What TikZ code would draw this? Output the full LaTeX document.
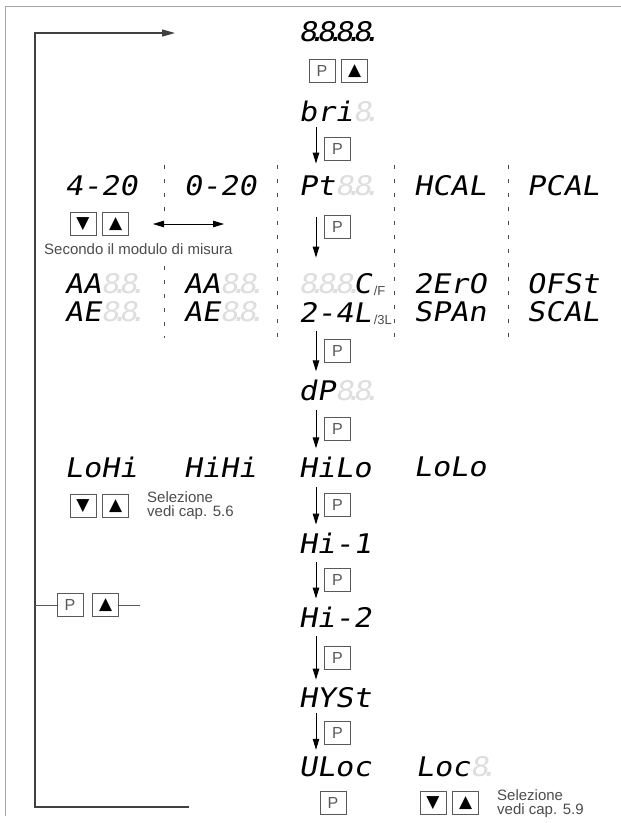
\documentclass[tikz,border=0pt]{standalone}
\usepackage{fontspec}
\setmainfont{Liberation Sans}
\newfontfamily\segfont{DejaVu Sans Mono}[FakeStretch=1.12, FakeSlant=0.18]
\newfontfamily\symfont{DejaVu Sans}
\usepackage{xcolor}
\usetikzlibrary{arrows.meta, positioning}
\definecolor{segoff}{gray}{0.87}
\definecolor{keyline}{gray}{0.35}
\definecolor{notegray}{gray}{0.3}

\newcommand{\segdisp}{\segfont\fontsize{27}{27}\selectfont}
\newcommand{\segdot}{\makebox[0pt]{.}}
\newcommand{\off}[1]{\textcolor{segoff}{#1}}
\newcommand{\keyup}{▲}
\newcommand{\keydown}{▼}

\begin{document}
\begin{tikzpicture}[x=1pt, y=-1pt,
    lcd/.style={inner sep=0pt, font=\segdisp},
    key/.style={draw=keyline, line width=0.7pt, minimum width=26pt, minimum height=23pt, inner sep=0pt, text=black!65, font=\fontsize{16}{16}\selectfont},
    keysym/.style={key, text=black, font=\symfont\fontsize{17}{17}\selectfont},
    flow/.style={-{Triangle[length=11pt, width=6.5pt]}, line width=0.9pt, shorten <=9pt, shorten >=8pt},
    twoway/.style={{Triangle[length=11pt, width=6.5pt]}-{Triangle[length=11pt, width=6.5pt]}, line width=0.9pt},
    note/.style={inner sep=0pt, text=notegray, align=left, font=\fontsize{15}{14}\selectfont},
    unit/.style={inner sep=0pt, text=notegray, font=\fontsize{13}{13}\selectfont},
    sep/.style={draw=black!70, line width=0.6pt, dash pattern=on 4pt off 10pt},
    backline/.style={draw=black!75, line width=1.2pt},
    tick/.style={draw=keyline, line width=0.7pt},
    frame/.style={draw=black!35, line width=1pt}
]
    \useasboundingbox (0,0) rectangle (621,823);
    \draw[frame] (5,816) -- (5,6) -- (621,6);

    % Main column
    \node[lcd] (test) at (335,32) {8\segdot8\segdot8\segdot8\segdot};
    \node[key] (testP) at (322,71) {P};
    \node[keysym, right=6pt of testP] (testUp) {\keyup};
    \node[lcd] (bri) at (335,111) {bri\off{8\segdot}};

    % Input type row
    \node[lcd] (in420) at (101,186) {4-20};
    \node[lcd] (in020) at (220,186) {0-20};
    \node[lcd] (inPt) at (335,186) {Pt\off{8\segdot8\segdot}};
    \node[lcd] (inHcal) at (450,186) {HCAL};
    \node[lcd] (inPcal) at (563,186) {PCAL};

    \node[keysym] (inDown) at (83,224) {\keydown};
    \node[keysym, right=6pt of inDown] (inUp) {\keyup};
    \coordinate (swL) at (153,224);
    \coordinate (swR) at (224,224);
    \draw[twoway] (swL) -- (swR);
    \node[note, anchor=west] (module) at (44,249) {Secondo il modulo di misura};

    % Parameter rows
    \node[lcd] (aa1) at (101,284) {AA\off{8\segdot8\segdot}};
    \node[lcd] (aa2) at (220,284) {AA\off{8\segdot8\segdot}};
    \node[lcd] (tempC) at (335,284) {\off{8\segdot8\segdot8\segdot}C};
    \node[lcd] (zero) at (450,284) {2ErO};
    \node[lcd] (ofst) at (563,284) {OFSt};
    \node[lcd] (ae1) at (101,312) {AE\off{8\segdot8\segdot}};
    \node[lcd] (ae2) at (220,312) {AE\off{8\segdot8\segdot}};
    \node[lcd] (wire) at (335,312) {2-4L};
    \node[lcd] (span) at (450,312) {SPAn};
    \node[lcd] (scal) at (563,312) {SCAL};
    \node[unit, anchor=base west, xshift=2pt, yshift=-2pt] (unitF) at (tempC.base east) {/F};
    \node[unit, anchor=base west, xshift=2pt, yshift=-2pt] (unit3L) at (wire.base east) {/3L};

    % Separators
    \draw[sep] (164,165) -- (164,212);
    \draw[sep] (164,266) -- (164,338);
    \foreach \x in {277,394,508}
        \draw[sep] (\x,165) -- (\x,338);

    \node[lcd] (dp) at (335,390) {dP\off{8\segdot8\segdot}};

    % Alarm mode row
    \node[lcd] (lohi) at (101,467) {LoHi};
    \node[lcd] (hihi) at (220,467) {HiHi};
    \node[lcd] (hilo) at (335,467) {HiLo};
    \node[lcd] (lolo) at (450,467) {LoLo};
    \node[keysym] (modeDown) at (83,506) {\keydown};
    \node[keysym, right=6pt of modeDown] (modeUp) {\keyup};
    \node[note, anchor=west] (modeNote) at (147,506) {Selezione\\vedi cap. 5.6};

    \node[lcd] (hi1) at (335,543) {Hi-1};
    \node[lcd] (hi2) at (335,617) {Hi-2};
    \node[lcd] (hyst) at (335,698) {HYSt};
    \node[lcd] (uloc) at (335,767) {ULoc};
    \node[lcd] (loc) at (452,767) {Loc\off{8\segdot}};
    \node[key] (endP) at (333,803) {P};
    \node[keysym] (locDown) at (433,803) {\keydown};
    \node[keysym, right=6pt of locDown] (locUp) {\keyup};
    \node[note, anchor=west] (locNote) at (497,804) {Selezione\\vedi cap. 5.9};

    % Connections - P steps
    \draw[flow, shorten <=5pt, shorten >=12pt] ([xshift=-19pt]bri.south) -- node[key, right=8pt] {P} ([xshift=-19pt]inPt.north);
    \draw[flow, shorten <=21pt, shorten >=16pt] ([xshift=-19pt]inPt.south) -- node[key, right=8pt, pos=0.4] {P} ([xshift=-19pt]tempC.north);
    \draw[flow] ([xshift=-19pt]wire.south) -- node[key, right=8pt] {P} ([xshift=-19pt]dp.north);
    \draw[flow] ([xshift=-19pt]dp.south) -- node[key, right=8pt] {P} ([xshift=-19pt]hilo.north);
    \draw[flow] ([xshift=-19pt]hilo.south) -- node[key, right=8pt] {P} ([xshift=-19pt]hi1.north);
    \draw[flow] ([xshift=-19pt]hi1.south) -- node[key, right=8pt] {P} ([xshift=-19pt]hi2.north);
    \draw[flow] ([xshift=-19pt]hi2.south) -- node[key, right=8pt] {P} ([xshift=-19pt]hyst.north);
    \draw[flow, shorten <=5pt, shorten >=7pt] ([xshift=-19pt]hyst.south) -- node[key, right=8pt] {P} ([xshift=-19pt]uloc.north);

    % Return path
    \coordinate (backS) at (189,807);
    \coordinate (backSW) at (35,807);
    \coordinate (backNW) at (35,33);
    \coordinate (backN) at (175,33);
    \draw[backline, -{Triangle[length=13pt, width=7pt]}] (backS) -- (backSW) -- (backNW) -- (backN);
    \node[key] (backP) at (70,605) {P};
    \node[keysym, right=9pt of backP] (backUp) {\keyup};
    \draw[tick] (backP.west -| backSW) -- (backP.west);
    \draw[tick] (backUp.east) -- ++(21,0);
\end{tikzpicture}
\end{document}
